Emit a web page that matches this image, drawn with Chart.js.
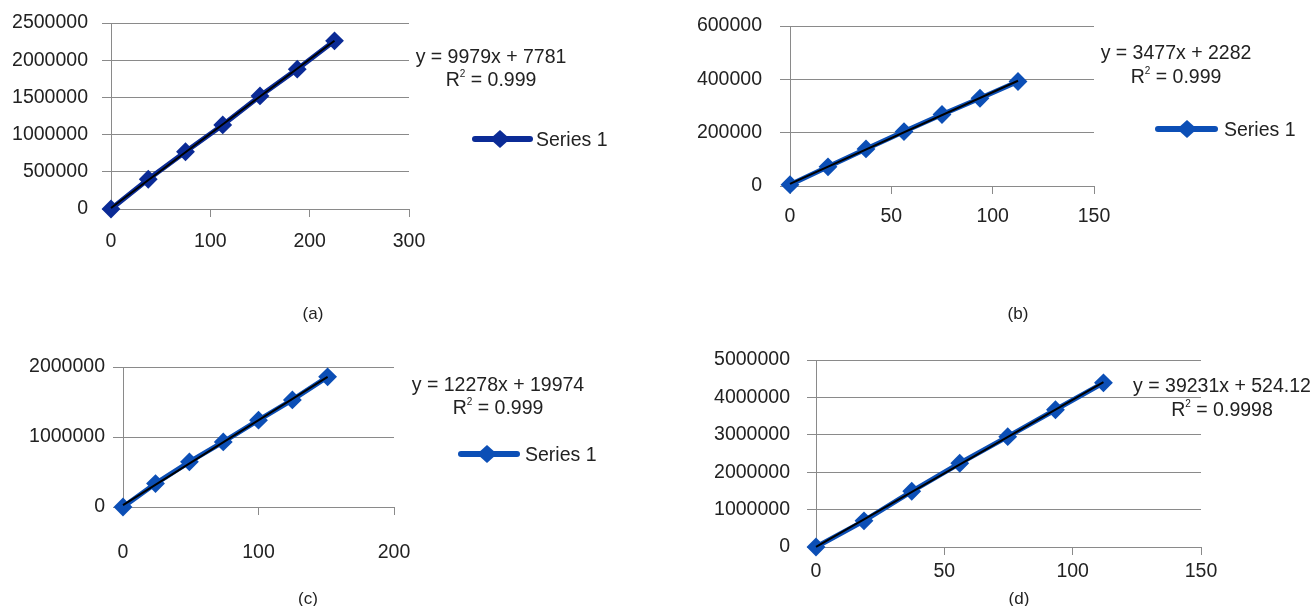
<!DOCTYPE html>
<html><head><meta charset="utf-8">
<script src="https://cdn.jsdelivr.net/npm/chart.js@4/dist/chart.umd.min.js"></script>
<style>
html,body{margin:0;padding:0;background:#fff;width:1316px;height:606px;overflow:hidden;font-family:'Liberation Sans',Arial,sans-serif;color:#222}
#wrap{position:relative;width:1316px;height:606px;overflow:hidden}
canvas{position:absolute;left:0;top:0}
.t{position:absolute;white-space:nowrap;font-size:19.5px;line-height:1;transform:translate(-50%,-50%)}
.l{position:absolute;white-space:nowrap;font-size:19.5px;line-height:1;transform:translate(0,-50%)}
.c{position:absolute;white-space:nowrap;font-size:17px;line-height:1;transform:translate(-50%,-50%)}
sup{font-size:10px;line-height:0;position:relative;top:-2px}
</style></head><body>
<div id="wrap">
<canvas id="ca" width="1316" height="700"></canvas>
<canvas id="cb" width="1316" height="700"></canvas>
<canvas id="cc" width="1316" height="700"></canvas>
<canvas id="cd" width="1316" height="700"></canvas>
</div>
<script>
// ---- data ----
const xA = [0, 37.5, 75, 112.5, 150, 187.5, 225];
const yA = [0, 400000, 770000, 1130000, 1520000, 1880000, 2260000];
const xB = [0, 18.75, 37.5, 56.25, 75, 93.75, 112.5];
const yB = [5000, 72000, 139000, 204000, 268000, 329000, 392000];
const xC = [0, 24, 49, 74, 100, 125, 151];
const yC = [0, 335000, 645000, 930000, 1240000, 1530000, 1860000];
const xD = [0, 18.7, 37.3, 56, 74.7, 93.3, 112];
const yD = [0, 700000, 1490000, 2240000, 2950000, 3670000, 4390000];
const seriesName = 'Series 1';
const eqA = ['y = 9979x + 7781', '0.999'];
const eqB = ['y = 3477x + 2282', '0.999'];
const eqC = ['y = 12278x + 19974', '0.999'];
const eqD = ['y = 39231x + 524.12', '0.9998'];
const captions = ['(a)', '(b)', '(c)', '(d)'];
// axis ranges [min, max, step]
const xRangeA = [0, 300, 100], yRangeA = [0, 2500000, 500000];
const xRangeB = [0, 150, 50],  yRangeB = [0, 600000, 200000];
const xRangeC = [0, 200, 100], yRangeC = [0, 2000000, 1000000];
const xRangeD = [0, 150, 50],  yRangeD = [0, 5000000, 1000000];

// ---- styling ----
const W = 1316, H = 700, YW = 110, XH = 80;
const FONT = "'Liberation Sans', Arial, sans-serif";
const FS = 19.5;
const GRID = '#8a8a8a', TXT = '#222';
const NAVY = '#0b2b96', BLUE = '#0c4fb6';

function linreg(xs, ys) {
  const n = xs.length;
  let sx = 0, sy = 0, sxx = 0, sxy = 0;
  for (let i = 0; i < n; i++) { sx += xs[i]; sy += ys[i]; sxx += xs[i]*xs[i]; sxy += xs[i]*ys[i]; }
  const a = (n*sxy - sx*sy) / (n*sxx - sx*sx);
  return {a, b: (sy - a*sx)/n};
}

function legendPlugin(leg, color) {
  return {
    id: 'legsym',
    afterDraw(chart) {
      if (!leg) return;
      const ctx = chart.ctx;
      ctx.save();
      ctx.strokeStyle = color; ctx.lineWidth = 6; ctx.lineCap = 'round';
      ctx.beginPath(); ctx.moveTo(leg.x1, leg.y); ctx.lineTo(leg.x2, leg.y); ctx.stroke();
      ctx.fillStyle = color;
      ctx.beginPath();
      ctx.moveTo(leg.cx - 10, leg.y); ctx.lineTo(leg.cx, leg.y - 9);
      ctx.lineTo(leg.cx + 10, leg.y); ctx.lineTo(leg.cx, leg.y + 9);
      ctx.closePath(); ctx.fill();
      ctx.restore();
    }
  };
}

function makeChart(id, xs, ys, color, box, xr, yr, st, leg) {
  const pts = xs.map((x, i) => ({x: x, y: ys[i]}));
  const f = linreg(xs, ys);
  const x0 = xs[0], x1 = xs[xs.length - 1];
  const trend = [{x: x0, y: f.a*x0 + f.b}, {x: x1, y: f.a*x1 + f.b}];
  const fit0 = s => { s.paddingLeft = 0; s.paddingRight = 0; s.paddingTop = 0; s.paddingBottom = 0; };
  return new Chart(document.getElementById(id), {
    type: 'scatter',
    data: {datasets: [
      {data: trend, showLine: true, borderColor: '#000', borderWidth: 2, pointRadius: 0, order: 0, clip: false},
      {data: pts, showLine: true, borderColor: color, borderWidth: 5, backgroundColor: color,
       pointStyle: 'rectRot', pointRadius: st.pr, pointBorderWidth: 2, pointBorderColor: color,
       pointBackgroundColor: color, order: 1, clip: false}
    ]},
    options: {
      responsive: false, animation: false, events: [],
      layout: {padding: {left: box.l - YW, top: box.t, right: W - box.r, bottom: H - box.b - XH}},
      plugins: {legend: {display: false}, tooltip: {enabled: false}},
      scales: {
        x: {type: 'linear', min: xr[0], max: xr[1],
            ticks: {stepSize: xr[2], padding: st.xpad, color: TXT, font: {family: FONT, size: FS},
                    maxRotation: 0, autoSkip: false, callback: v => String(v)},
            grid: {display: true, drawOnChartArea: false, drawTicks: true, tickLength: 8, color: GRID, lineWidth: 1},
            border: {display: true, color: GRID, width: 1},
            afterFit: s => { s.height = XH; fit0(s); }},
        y: {type: 'linear', min: yr[0], max: yr[1],
            ticks: {stepSize: yr[2], padding: st.ypad, color: TXT, font: {family: FONT, size: FS},
                    autoSkip: false, callback: v => String(v)},
            grid: {display: true, drawOnChartArea: true, drawTicks: true, tickLength: st.ytick, color: GRID, lineWidth: 1},
            border: {display: true, color: GRID, width: 1},
            afterFit: s => { s.width = YW; fit0(s); }}
      }
    },
    plugins: [legendPlugin(leg, color)]
  });
}

makeChart('ca', xA, yA, NAVY, {l: 111, t: 23, r: 409, b: 209}, xRangeA, yRangeA,
  {ytick: 9, ypad: 14, xpad: 13, pr: 8}, {x1: 475, x2: 530, cx: 500, y: 139});
makeChart('cb', xB, yB, BLUE, {l: 790, t: 26, r: 1094, b: 186}, xRangeB, yRangeB,
  {ytick: 10, ypad: 18, xpad: 11, pr: 8}, {x1: 1158, x2: 1215, cx: 1187, y: 129});
makeChart('cc', xC, yC, BLUE, {l: 123, t: 367, r: 394, b: 507}, xRangeC, yRangeC,
  {ytick: 10, ypad: 8, xpad: 26, pr: 8}, {x1: 461, x2: 517, cx: 487, y: 454});
makeChart('cd', xD, yD, BLUE, {l: 816, t: 360, r: 1201, b: 547}, xRangeD, yRangeD,
  {ytick: 9, ypad: 17, xpad: 5, pr: 8}, null);

// ---- text annotations ----
const wrap = document.getElementById('wrap');
function addText(cls, html, x, y) {
  const d = document.createElement('div');
  d.className = cls; d.innerHTML = html;
  d.style.left = x + 'px'; d.style.top = y + 'px';
  wrap.appendChild(d);
}
function addEq(eq, cx, y1, y2) {
  addText('t', eq[0], cx, y1);
  addText('t', 'R<sup>2</sup> = ' + eq[1], cx, y2);
}
addEq(eqA, 491, 57, 80);
addEq(eqB, 1176, 53, 77);
addEq(eqC, 498, 385, 408);
addEq(eqD, 1222, 386, 410);
addText('l', seriesName, 536, 140);
addText('l', seriesName, 1224, 130);
addText('l', seriesName, 525, 455);
addText('c', captions[0], 313, 313);
addText('c', captions[1], 1018, 313);
addText('c', captions[2], 308, 598);
addText('c', captions[3], 1019, 598);
</script>
</body></html>
